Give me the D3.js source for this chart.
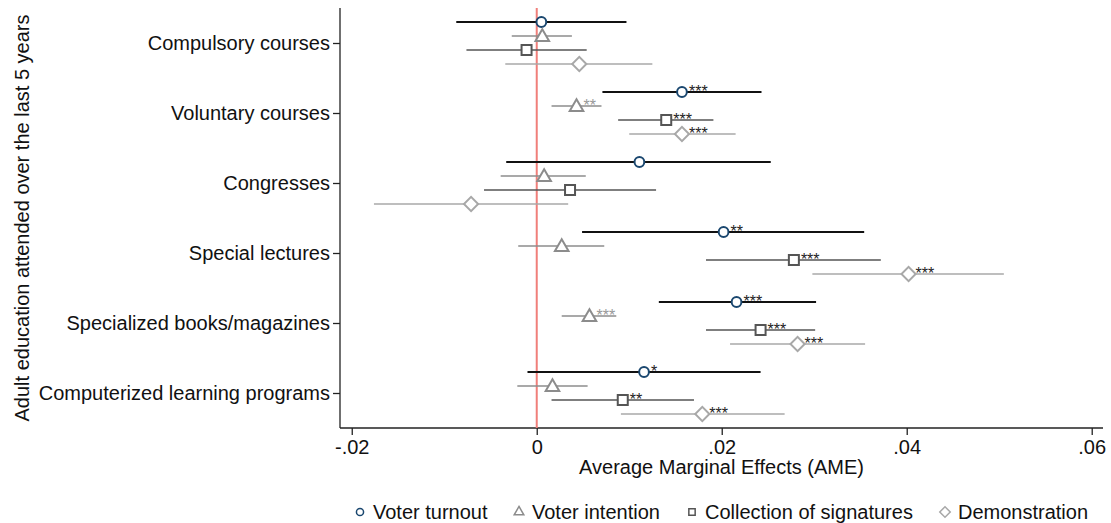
<!DOCTYPE html>
<html>
<head>
<meta charset="utf-8">
<script src="https://cdn.jsdelivr.net/npm/d3@7"></script>
<style>
  body { margin: 0; background: #fff; }
  svg { font-family: "Liberation Sans", Arial, sans-serif; }
</style>
</head>
<body>
<div class="chart"></div>
<script>
// categories on the y axis
const categories = ["Compulsory courses", "Voluntary courses", "Congresses",
    "Special lectures", "Specialized books/magazines", "Computerized learning programs"];

const seriesNames = ["Voter turnout", "Voter intention", "Collection of signatures", "Demonstration"];

// point estimates, lower and upper CI, significance stars (per category)
const turnoutEst = [0.0005, 0.0157, 0.0111, 0.0202, 0.0216, 0.0116];
const turnoutLo = [-0.0087, 0.0071, -0.0033, 0.0049, 0.0132, -0.0010];
const turnoutHi = [0.0097, 0.0243, 0.0253, 0.0354, 0.0302, 0.0242];
const turnoutStars = ["", "***", "", "**", "***", "*"];

const intentionEst = [0.0006, 0.0043, 0.0008, 0.0027, 0.0057, 0.0017];
const intentionLo = [-0.0027, 0.0016, -0.0039, -0.0020, 0.0027, -0.0021];
const intentionHi = [0.0038, 0.0070, 0.0053, 0.0073, 0.0086, 0.0055];
const intentionStars = ["", "**", "", "", "***", ""];

const signaturesEst = [-0.0011, 0.0140, 0.0036, 0.0278, 0.0242, 0.0093];
const signaturesLo = [-0.0076, 0.0088, -0.0057, 0.0183, 0.0183, 0.0016];
const signaturesHi = [0.0054, 0.0191, 0.0129, 0.0372, 0.0301, 0.0170];
const signaturesStars = ["", "***", "", "***", "***", "**"];

const demoEst = [0.0046, 0.0157, -0.0071, 0.0402, 0.0282, 0.0179];
const demoLo = [-0.0034, 0.0100, -0.0176, 0.0298, 0.0209, 0.0091];
const demoHi = [0.0125, 0.0215, 0.0034, 0.0505, 0.0355, 0.0268];
const demoStars = ["", "***", "", "***", "***", "***"];

const xTicks = [-0.02, 0, 0.02, 0.04, 0.06];
const xTickLabels = ["-.02", "0", ".02", ".04", ".06"];

let series = [
    { name: seriesNames[0], est: turnoutEst, lo: turnoutLo, hi: turnoutHi, stars: turnoutStars,
      line: "#111", lineW: 2, mark: "#1a476f", symbol: "circle", starColor: "#222" },
    { name: seriesNames[1], est: intentionEst, lo: intentionLo, hi: intentionHi, stars: intentionStars,
      line: "#8c8c8c", lineW: 1.6, mark: "#8c8c8c", symbol: "triangle", starColor: "#999" },
    { name: seriesNames[2], est: signaturesEst, lo: signaturesLo, hi: signaturesHi, stars: signaturesStars,
      line: "#555", lineW: 1.6, mark: "#555", symbol: "square", starColor: "#222" },
    { name: seriesNames[3], est: demoEst, lo: demoLo, hi: demoHi, stars: demoStars,
      line: "#a8a8a8", lineW: 1.6, mark: "#a8a8a8", symbol: "diamond", starColor: "#222" }
];

let width = 1111, height = 523;
let margin = { left: 340, top: 8, right: 8, bottom: 95 };
let plotW = 1103 - margin.left;
let plotH = 428 - margin.top;
let offsets = [-21, -7, 7, 21];

let svg = d3.select(".chart").append("svg").attr("width", width).attr("height", height);
let g = svg.append("g").attr("transform", `translate(${margin.left},${margin.top})`);

let x = d3.scaleLinear().domain([-0.02127, 0.06122]).range([0, plotW]);
let y = d3.scalePoint().domain(categories).range([0, plotH]).padding(0.5);

// axes
let xAxis = g.append("g").attr("transform", `translate(0,${plotH})`)
    .call(d3.axisBottom(x).tickValues(xTicks).tickFormat((d, i) => xTickLabels[i]).tickSize(7).tickPadding(3));
let yAxis = g.append("g")
    .call(d3.axisLeft(y).tickSize(7).tickPadding(3));
[xAxis, yAxis].forEach(a => {
    a.select(".domain").attr("stroke", "#222").attr("stroke-width", 1.3);
    a.selectAll(".tick line").attr("stroke", "#222").attr("stroke-width", 1.3);
    a.selectAll(".tick text").attr("fill", "#111").style("font-size", "20px");
});
xAxis.selectAll(".tick text").attr("dy", "0.8em");
yAxis.select(".domain").attr("d", `M0,0V${plotH}`);
xAxis.select(".domain").attr("d", `M0,0H${plotW}`);

// reference line at zero
g.append("line")
    .attr("x1", x(0)).attr("x2", x(0)).attr("y1", 0).attr("y2", plotH)
    .attr("stroke", "#f07f7a").attr("stroke-width", 2);

function symbolPath(type, size) {
    let s = { circle: d3.symbolCircle, triangle: d3.symbolTriangle, square: d3.symbolSquare, diamond: d3.symbolSquare }[type];
    return d3.symbol().type(s).size(size)();
}
let symSize = { circle: 75, triangle: 80, square: 100, diamond: 100 };

series.forEach(function (s, si) {
    let grp = g.append("g").attr("class", "series");
    let rows = categories.map((c, i) => ({ c: c, est: s.est[i], lo: s.lo[i], hi: s.hi[i], stars: s.stars[i] }));
    grp.selectAll("line").data(rows).enter().append("line")
        .attr("x1", d => x(d.lo)).attr("x2", d => x(d.hi))
        .attr("y1", d => y(d.c) + offsets[si]).attr("y2", d => y(d.c) + offsets[si])
        .attr("stroke", s.line).attr("stroke-width", s.lineW);
    grp.selectAll("path").data(rows).enter().append("path")
        .attr("d", symbolPath(s.symbol, symSize[s.symbol]))
        .attr("transform", d => `translate(${x(d.est)},${y(d.c) + offsets[si] + (s.symbol == "triangle" ? 1 : 0)})` + (s.symbol == "diamond" ? " rotate(45)" : ""))
        .attr("fill", "#fff").attr("stroke", s.mark).attr("stroke-width", 2);
    grp.selectAll("text").data(rows.filter(d => d.stars)).enter().append("text")
        .attr("x", d => x(d.est) + 7).attr("y", d => y(d.c) + offsets[si] + 5)
        .attr("fill", s.starColor).style("font-size", "16px").text(d => d.stars);
});

// axis titles
svg.append("text").attr("x", margin.left + plotW / 2).attr("y", 474)
    .attr("text-anchor", "middle").style("font-size", "20px").attr("fill", "#111")
    .text("Average Marginal Effects (AME)");
svg.append("text").attr("transform", `translate(29,${margin.top + plotH / 2}) rotate(-90)`)
    .attr("text-anchor", "middle").style("font-size", "20px").attr("fill", "#111")
    .text("Adult education attended over the last 5 years");

// legend
let legendX = [360, 519, 692, 945];
let legend = svg.append("g");
series.forEach(function (s, si) {
    let item = legend.append("g").attr("transform", `translate(${legendX[si]},512)`);
    item.append("path")
        .attr("d", symbolPath(s.symbol, s.symbol == "diamond" ? 55 : 40))
        .attr("transform", s.symbol == "diamond" ? "rotate(45)" : "")
        .attr("fill", "#fff").attr("stroke", s.mark).attr("stroke-width", 1.5);
    item.append("text").attr("x", 13).attr("y", 7).style("font-size", "20px").attr("fill", "#111").text(s.name);
});
</script>
</body>
</html>
